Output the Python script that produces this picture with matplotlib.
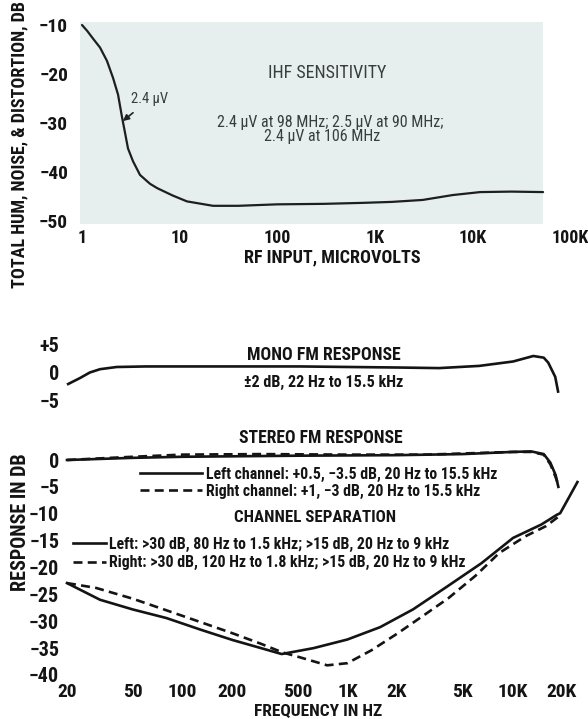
import math
import matplotlib
matplotlib.use("Agg")
import matplotlib.pyplot as plt
from matplotlib import font_manager as fm

# ---------------- data ----------------
# Top panel: IHF sensitivity
rf_input_uv = [1, 1.13, 1.3, 1.53, 1.8, 2.08, 2.34, 2.57, 2.76, 2.96, 3.33, 3.93,
               4.97, 5.9, 8.5, 11.9, 22, 40, 100, 300, 750, 1500, 3100, 6300,
               12000, 25000, 53000]
thd_db = [-10, -11.2, -12.8, -14.6, -17.3, -20.8, -24.2, -28.8, -32, -35.2, -37.8,
          -40.6, -42.4, -43.3, -44.8, -46.0, -46.9, -46.9, -46.6, -46.5, -46.3,
          -46.1, -45.7, -44.7, -44.1, -44.0, -44.1]
top_xticks = [1, 10, 100, 1000, 10000, 100000]
top_xticklabels = ["1", "10", "100", "1K", "10K", "100K"]
top_yticks = [-10, -20, -30, -40, -50]
top_yticklabels = ["\u221210", "\u221220", "\u221230", "\u221240", "\u221250"]

# Bottom panel: frequency axis
freq_ticks = [20, 50, 100, 200, 500, 1000, 2000, 5000, 10000, 20000]
freq_ticklabels = ["20", "50", "100", "200", "500", "1K", "2K", "5K", "10K", "20K"]

mono_freq = [20, 24, 27.5, 31.7, 40, 60, 127, 517, 2100, 3600, 6300, 10100,
             13400, 15500, 16500, 18200, 19000]
mono_db = [-2.2, -1.0, 0.0, 0.6, 1.0, 1.1, 1.1, 1.1, 0.9, 0.8, 1.2, 2.0,
           3.0, 2.7, 1.8, -0.8, -3.7]
mono_yticks = [5, 0, -5]
mono_yticklabels = ["+5", "0", "\u22125"]

stereo_left_freq = [20, 50, 100, 500, 2000, 5000, 10000, 13000, 15500, 17000, 18300, 19000]
stereo_left_db = [0.0, 0.4, 0.6, 0.8, 0.9, 1.1, 1.5, 1.6, 1.1, -0.5, -2.8, -5.0]
stereo_right_freq = [20, 50, 100, 300, 1000, 3000, 10000, 13000, 15500, 17000, 18300, 19000]
stereo_right_db = [0.0, 0.6, 1.0, 1.1, 1.0, 1.0, 1.5, 1.5, 1.0, -0.8, -3.2, -4.6]

sep_left_freq = [20, 31.7, 50, 80, 130, 202, 300, 400, 624, 1000, 1580, 2500, 4000,
                 6500, 10100, 15000, 18600, 19500, 22000, 24800]
sep_left_db = [-22.9, -26.0, -27.8, -29.4, -31.6, -33.5, -35.0, -36.1, -35.0, -33.4,
               -31.1, -27.8, -23.6, -19.2, -14.5, -12.0, -10.2, -9.9, -7.0, -4.1]
sep_right_freq = [20, 30, 50, 79, 130, 200, 300, 405, 515, 755, 1000, 1400, 2030,
                  3000, 4100, 6000, 8330, 12000, 16000, 19500]
sep_right_db = [-22.9, -23.8, -25.8, -27.9, -30.2, -32.2, -34.2, -35.8, -36.7, -38.2,
                -37.8, -35.4, -32.2, -28.6, -25.7, -21.5, -17.3, -14.2, -12.3, -10.3]

stereo_yticks = [0, -5, -10, -15, -20, -25, -30, -35, -40]
stereo_yticklabels = ["0", "\u22125", "\u221210", "\u221215", "\u221220", "\u221225",
                      "\u221230", "\u221235", "\u221240"]

# ---------------- font choice ----------------
installed = {f.name for f in fm.fontManager.ttflist}
candidates = ["Roboto Condensed", "Archivo Narrow", "Liberation Sans Narrow",
              "Fira Sans Condensed", "IBM Plex Sans Condensed", "PT Sans Narrow",
              "Roboto"]
found = [c for c in candidates if c in installed]
MAIN = found[0] if found else "DejaVu Sans"
FONT = [MAIN, "DejaVu Sans"]
plt.rcParams["font.family"] = FONT
INK = "#141414"
SOFT = "#3a3d3d"
SHADE = "#e6eeee"

W, H = 588, 719
fig = plt.figure(figsize=(W / 100, H / 100), dpi=100)
fig.patch.set_facecolor("white")


def px_axes(x0, y0, x1, y1):
    return fig.add_axes([x0 / W, 1 - y1 / H, (x1 - x0) / W, (y1 - y0) / H])


def fx(px):
    return px / W


def fy(py):
    return 1 - py / H


def clean(ax):
    for s in ax.spines.values():
        s.set_visible(False)
    ax.set_facecolor("none")
    ax.tick_params(length=0)


# ---------------- top panel ----------------
ax1 = px_axes(82, 25, 570, 221)
clean(ax1)
ax1.set_xscale("log")
ax1.set_xlim(1, 100000)
ax1.set_ylim(-50, -10)
ax1.axvspan(0.954, 53000, ymin=-0.016, ymax=1.016, color=SHADE, zorder=0,
            clip_on=False, lw=0)
ax1.plot(rf_input_uv, thd_db, color="#1e1e1e", lw=1.6, zorder=3,
         solid_capstyle="round", solid_joinstyle="round", clip_on=False)
ax1.set_xticks(top_xticks)
ax1.set_xticklabels(top_xticklabels)
ax1.xaxis.set_minor_locator(matplotlib.ticker.NullLocator())
ax1.set_yticks(top_yticks)
ax1.set_yticklabels(top_yticklabels)
ax1.tick_params(axis="x", pad=6, labelsize=13, labelcolor=INK)
ax1.tick_params(axis="y", pad=10, labelsize=14, labelcolor=INK)
for t in ax1.get_xticklabels() + ax1.get_yticklabels():
    t.set_fontweight("bold")

ax1.annotate("2.4 \u00b5V", xy=(2.62, -29.6), xytext=(4.9, -25.2),
             ha="center", va="center", fontsize=10.5, color=SOFT,
             arrowprops=dict(arrowstyle="-|>", color="#222222", lw=1.2,
                             mutation_scale=9, shrinkA=4, shrinkB=0))

fig.text(fx(327), fy(73), "IHF SENSITIVITY", ha="center", va="center",
         fontsize=13, color=SOFT)
fig.text(fx(330), fy(122), "2.4 \u00b5V at 98 MHz; 2.5 \u00b5V at 90 MHz;",
         ha="center", va="center", fontsize=11.5, color=SOFT)
fig.text(fx(322), fy(137), "2.4 \u00b5V at 106 MHz", ha="center", va="center",
         fontsize=11.5, color=SOFT)
fig.text(fx(332), fy(257), "RF INPUT, MICROVOLTS", ha="center", va="center",
         fontsize=13, fontweight="bold", color=INK)
fig.text(fx(19), fy(145), "TOTAL HUM, NOISE, & DISTORTION, DB", ha="center",
         va="center", rotation=90, fontsize=13, fontweight="bold", color=INK)


# ---------------- bottom panel ----------------
def fpx(f):
    return 67 + 165 * math.log10(f / 20)


XL, XR = 19, 26000
x0, x1 = fpx(XL), fpx(XR)

# mono axes
ax2 = px_axes(x0, 345, x1, 400)
clean(ax2)
ax2.set_xscale("log")
ax2.set_xlim(XL, XR)
ax2.set_ylim(-5, 5)
ax2.plot(mono_freq, mono_db, color=INK, lw=1.9, clip_on=False,
         solid_capstyle="butt", solid_joinstyle="round")
ax2.set_xticks([])
ax2.xaxis.set_minor_locator(matplotlib.ticker.NullLocator())
ax2.set_yticks(mono_yticks)
ax2.set_yticklabels(mono_yticklabels)
ax2.tick_params(axis="y", pad=3, labelsize=14.5, labelcolor=INK)

# stereo + separation axes
ymax = 2
ax3 = px_axes(x0, 460 - 5.375 * ymax, x1, 675)
clean(ax3)
ax3.set_xscale("log")
ax3.set_xlim(XL, XR)
ax3.set_ylim(-40, ymax)
dash = (3.4, 2.0)
l_st_left, = ax3.plot(stereo_left_freq, stereo_left_db, color=INK, lw=1.9,
                      clip_on=False, solid_joinstyle="round")
l_st_right, = ax3.plot(stereo_right_freq, stereo_right_db, color=INK, lw=1.9,
                       clip_on=False, dashes=dash)
l_sep_left, = ax3.plot(sep_left_freq, sep_left_db, color=INK, lw=1.9,
                       clip_on=False, solid_joinstyle="round")
l_sep_right, = ax3.plot(sep_right_freq, sep_right_db, color=INK, lw=1.9,
                        clip_on=False, dashes=dash)
ax3.set_xticks(freq_ticks)
ax3.set_xticklabels(freq_ticklabels)
ax3.xaxis.set_minor_locator(matplotlib.ticker.NullLocator())
ax3.set_yticks(stereo_yticks)
ax3.set_yticklabels(stereo_yticklabels)
ax3.tick_params(axis="x", pad=6, labelsize=14, labelcolor=INK)
ax3.tick_params(axis="y", pad=3, labelsize=14.5, labelcolor=INK)
for t in (ax2.get_yticklabels() + ax3.get_yticklabels() + ax3.get_xticklabels()):
    t.set_fontweight("bold")

fig.text(fx(324), fy(355), "MONO FM RESPONSE", ha="center", va="center",
         fontsize=12.8, fontweight="bold", color=INK)
fig.text(fx(324), fy(382), "\u00b12 dB, 22 Hz to 15.5 kHz", ha="center",
         va="center", fontsize=11.6, fontweight="bold", color=INK)
fig.text(fx(321), fy(438), "STEREO FM RESPONSE", ha="center", va="center",
         fontsize=12.7, fontweight="bold", color=INK)
fig.text(fx(315), fy(517), "CHANNEL SEPARATION", ha="center", va="center",
         fontsize=12.2, fontweight="bold", color=INK)

leg_prop = dict(family=FONT, size=11.4, weight="bold")
leg1 = ax3.legend([l_st_left, l_st_right],
                  ["Left channel: +0.5, \u22123.5 dB, 20 Hz to 15.5 kHz",
                   "Right channel: +1, \u22123 dB, 20 Hz to 15.5 kHz"],
                  loc="upper left", bbox_to_anchor=(fx(140), fy(467)),
                  bbox_transform=fig.transFigure, frameon=False, borderpad=0,
                  borderaxespad=0, handlelength=3.9, handletextpad=0.3,
                  labelspacing=0.1, prop=leg_prop, labelcolor=INK)
ax3.add_artist(leg1)
ax3.legend([l_sep_left, l_sep_right],
           ["Left: >30 dB, 80 Hz to 1.5 kHz; >15 dB, 20 Hz to 9 kHz",
            "Right: >30 dB, 120 Hz to 1.8 kHz; >15 dB, 20 Hz to 9 kHz"],
           loc="upper left", bbox_to_anchor=(fx(73), fy(537)),
           bbox_transform=fig.transFigure, frameon=False, borderpad=0,
           borderaxespad=0, handlelength=2.1, handletextpad=0.15,
           labelspacing=0.2, prop=leg_prop, labelcolor=INK)

fig.text(fx(318), fy(712), "FREQUENCY IN HZ", ha="center", va="center",
         fontsize=12.5, fontweight="bold", color=INK)
fig.text(fx(20), fy(522), "RESPONSE IN DB", ha="center", va="center",
         rotation=90, fontsize=14.5, fontweight="bold", color=INK)

fig.savefig("out.png", dpi=100, facecolor="white")
